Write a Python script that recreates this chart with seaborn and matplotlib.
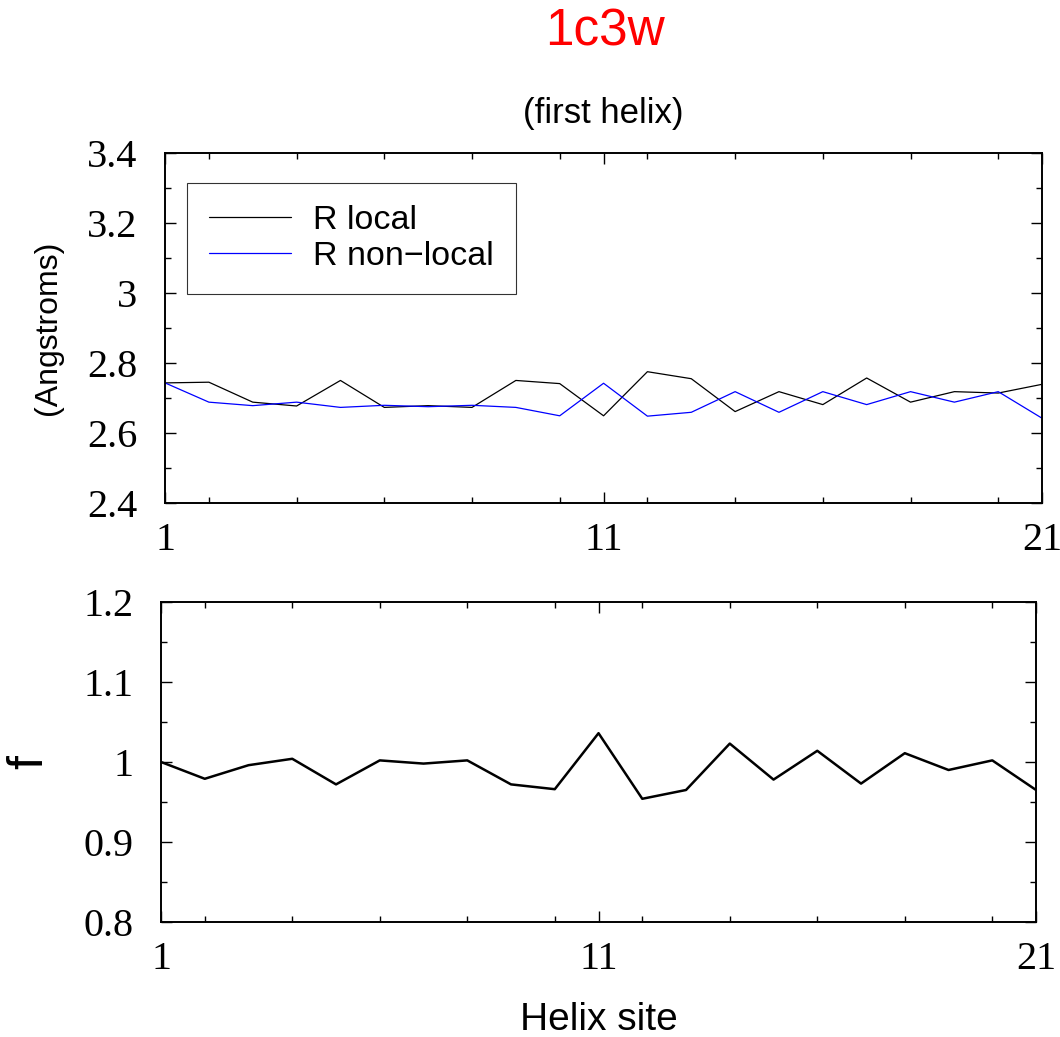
import matplotlib
matplotlib.use("Agg")
import matplotlib.pyplot as plt
from matplotlib.ticker import MultipleLocator, FixedLocator
import seaborn as sns
import pandas as pd

# helix sites 1..21
sites = list(range(1, 22))

# R local / R non-local (Angstroms)
r_local = [2.743, 2.745, 2.688, 2.677, 2.750, 2.673, 2.678, 2.673, 2.750, 2.741, 2.649,
           2.775, 2.755, 2.661, 2.718, 2.681, 2.757, 2.688, 2.718, 2.714, 2.739]
r_nonlocal = [2.743, 2.688, 2.678, 2.688, 2.673, 2.679, 2.675, 2.679, 2.673, 2.649, 2.742,
              2.648, 2.659, 2.718, 2.659, 2.718, 2.681, 2.718, 2.688, 2.718, 2.642]

# f values
f_vals = [1.000, 0.979, 0.996, 1.004, 0.972, 1.002, 0.998, 1.002, 0.972, 0.966, 1.036,
          0.954, 0.965, 1.023, 0.978, 1.014, 0.973, 1.011, 0.990, 1.002, 0.965]

series_names = ["R local", "R non\u2212local"]
series_colors = ["black", "blue"]
x_ticklabels = ["1", "11", "21"]

df_r = pd.DataFrame({
    "site": sites * 2,
    "R": r_local + r_nonlocal,
    "series": [series_names[0]] * len(sites) + [series_names[1]] * len(sites),
})
df_f = pd.DataFrame({"site": sites, "f": f_vals})

sns.set_style("ticks")
plt.rcParams["font.family"] = ["Liberation Sans", "DejaVu Sans"]
plt.rcParams["axes.linewidth"] = 1.4
plt.rcParams["text.color"] = "black"
plt.rcParams["xtick.color"] = "black"
plt.rcParams["ytick.color"] = "black"
plt.rcParams["axes.edgecolor"] = "black"

fig = plt.figure(figsize=(10.6, 10.37), dpi=100)
ax1 = fig.add_axes([0.1557, 0.5150, 0.8274, 0.3375])
ax2 = fig.add_axes([0.1519, 0.1109, 0.8255, 0.3086])

sns.lineplot(data=df_r, x="site", y="R", hue="series", palette=series_colors,
             linewidth=0.9, ax=ax1, legend=True)
sns.lineplot(data=df_f, x="site", y="f", color="black", linewidth=1.8, ax=ax2)

serif = ["Liberation Serif", "DejaVu Serif"]

def style_axis(ax, ylim, ymajor, yminor):
    ax.set_xlim(1, 21)
    ax.set_ylim(*ylim)
    ax.xaxis.set_major_locator(FixedLocator([1, 11, 21]))
    ax.set_xticklabels(x_ticklabels)
    ax.xaxis.set_minor_locator(MultipleLocator(2))
    ax.yaxis.set_major_locator(MultipleLocator(ymajor))
    ax.yaxis.set_minor_locator(MultipleLocator(yminor))
    ax.yaxis.set_major_formatter(plt.FuncFormatter(lambda v, p: f"{v:g}"))
    ax.tick_params(which="both", direction="in", top=True, right=True, width=1.0,
                   colors="black")
    ax.tick_params(which="major", length=8, labelsize=29, pad=14)
    ax.tick_params(axis="y", which="major", pad=20)
    ax.tick_params(which="minor", length=4.5)
    for lab in ax.get_xticklabels() + ax.get_yticklabels():
        lab.set_family(serif)
        lab.set_color("black")
    ax.set_xlabel("")
    ax.set_ylabel("")
    for s in ax.spines.values():
        s.set_visible(True)
        s.set_linewidth(1.4)
        s.set_color("black")

style_axis(ax1, (2.4, 3.4), 0.2, 0.1)
style_axis(ax2, (0.8, 1.2), 0.1, 0.05)

leg = ax1.legend(loc="upper left", bbox_to_anchor=(0.0251, 0.914), borderaxespad=0,
                 fontsize=24.5, handlelength=2.4, handletextpad=0.65, fancybox=False,
                 frameon=True, borderpad=0.65, labelspacing=0.15)
leg.get_frame().set_edgecolor("black")
leg.get_frame().set_linewidth(0.8)
for t in leg.get_texts():
    t.set_color("black")

fig.text(0.571, 0.969, "1c3w", color="red", fontsize=37, ha="center", va="center")
fig.text(0.569, 0.891, "(first helix)", fontsize=25, ha="center", va="center")
fig.text(0.565, 0.0164, "Helix site", fontsize=28, ha="center", va="center")
fig.text(0.0453, 0.6837, "(Angstroms)", fontsize=23, rotation=90, ha="center", va="center")
fig.text(0.028, 0.265, "f", fontsize=36, rotation=90, ha="center", va="center")

fig.savefig("out.png", dpi=100)
